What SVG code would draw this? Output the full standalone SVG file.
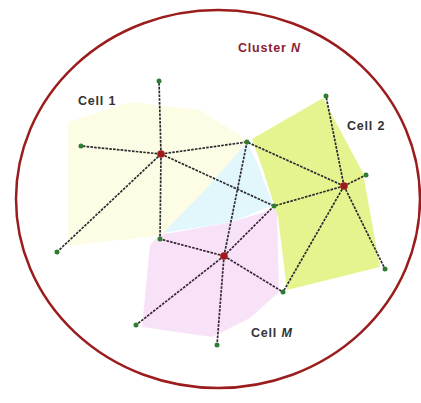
<svg xmlns="http://www.w3.org/2000/svg" width="421" height="403" viewBox="0 0 421 403">
<style>
.e{stroke:#2b2b30;stroke-width:1.7;stroke-dasharray:2.6 1.2;fill:none}
.m{stroke:#3a2438}
.n{fill:#2e7d32}
.c{fill:#9e1b1b}
.t{font-family:"Liberation Sans",Arial,sans-serif;font-weight:bold;font-size:12.5px;fill:#333;letter-spacing:0.8px}
</style>
<rect width="421" height="403" fill="#fff"/>
<ellipse id="cluster" cx="218" cy="199" rx="202" ry="189" fill="none" stroke="#9b1c1c" stroke-width="2.5"/>
<g id="regions">
<polygon id="cell1-area" points="68,122 130,102 200,110 247,140 215,185 165,235 68,246" fill="#fdfde6"/>
<polygon id="cell1M-area" points="247,142 258,165 273,205 232,222 163,233 205,190" fill="#e2f7fb"/>
<polygon id="cellM-area" points="160,235 232,222 277,208 279,292 250,318 212,337 142,327 150,245" fill="#f8e2f8"/>
<polygon id="cell2-area" points="252,139 323,98 363,173 380,267 287,290 278,217 263,170" fill="#e6f490"/>
</g>
<g id="connectors">
<line class="e" x1="161" y1="154" x2="159" y2="81"/>
<line class="e" x1="161" y1="154" x2="81" y2="146"/>
<line class="e" x1="161" y1="154" x2="57" y2="252"/>
<line class="e" x1="161" y1="154" x2="160" y2="239"/>
<line class="e" x1="161" y1="154" x2="247" y2="142"/>
<line class="e" x1="161" y1="154" x2="274" y2="206"/>
<line class="e" x1="344" y1="186" x2="326" y2="96"/>
<line class="e" x1="344" y1="186" x2="366" y2="175"/>
<line class="e" x1="344" y1="186" x2="385" y2="269"/>
<line class="e" x1="344" y1="186" x2="283" y2="292"/>
<line class="e" x1="344" y1="186" x2="274" y2="206"/>
<line class="e" x1="344" y1="186" x2="247" y2="142"/>
<line class="e m" x1="224" y1="256" x2="160" y2="239"/>
<line class="e" x1="224" y1="256" x2="247" y2="142"/>
<line class="e m" x1="224" y1="256" x2="274" y2="206"/>
<line class="e m" x1="224" y1="256" x2="283" y2="292"/>
<line class="e m" x1="224" y1="256" x2="136" y2="325"/>
<line class="e m" x1="224" y1="256" x2="217" y2="345"/>
</g>
<g id="nodes">
<circle class="n" cx="159" cy="81" r="2.5"/>
<circle class="n" cx="81" cy="146" r="2.5"/>
<circle class="n" cx="57" cy="252" r="2.5"/>
<circle class="n" cx="160" cy="239" r="2.5"/>
<circle class="n" cx="247" cy="142" r="2.5"/>
<circle class="n" cx="274" cy="206" r="2.5"/>
<circle class="n" cx="326" cy="96" r="2.5"/>
<circle class="n" cx="366" cy="175" r="2.5"/>
<circle class="n" cx="385" cy="269" r="2.5"/>
<circle class="n" cx="283" cy="292" r="2.5"/>
<circle class="n" cx="136" cy="325" r="2.5"/>
<circle class="n" cx="217" cy="345" r="2.5"/>
</g>
<g id="cell1-center"><circle class="c" cx="161" cy="154" r="3.8"/></g>
<g id="cell2-center"><circle class="c" cx="344" cy="186" r="3.8"/></g>
<g id="cellM-center"><circle class="c" cx="224" cy="256" r="3.8"/></g>
<g id="labels">
<text class="t" x="238" y="52" style="fill:#8b2232">Cluster <tspan font-style="italic">N</tspan></text>
<text class="t" x="78" y="105">Cell 1</text>
<text class="t" x="347" y="130">Cell 2</text>
<text class="t" x="251" y="337">Cell <tspan font-style="italic">M</tspan></text>
</g>
</svg>
